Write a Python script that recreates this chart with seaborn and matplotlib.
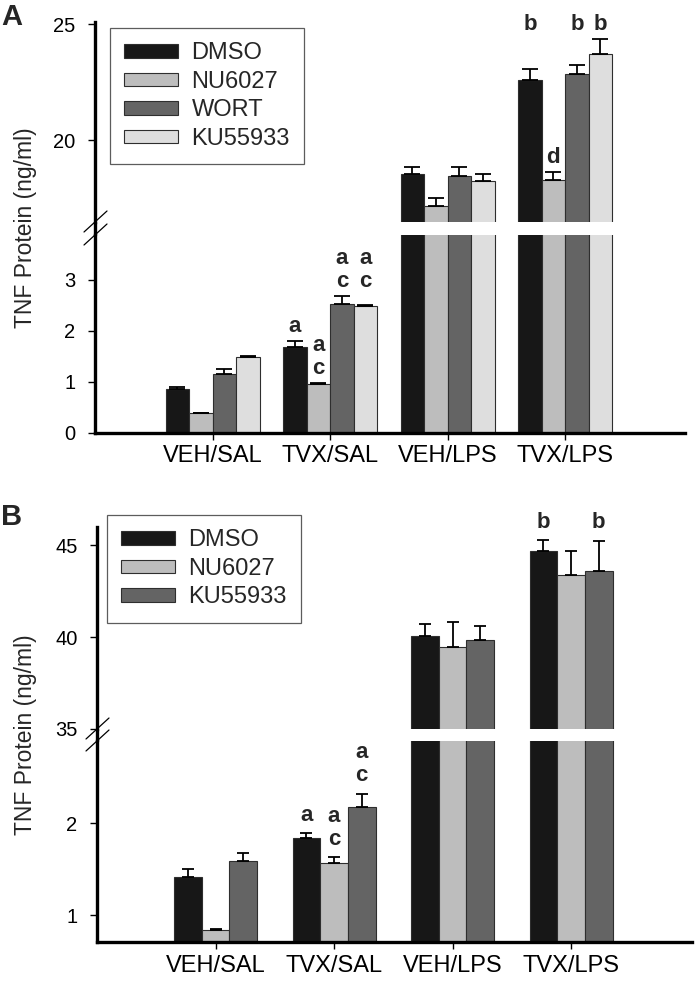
import numpy as np
import pandas as pd
import matplotlib
matplotlib.use('Agg')
import matplotlib.pyplot as plt
from matplotlib.lines import Line2D
import seaborn as sns

groups = ['VEH/SAL', 'TVX/SAL', 'VEH/LPS', 'TVX/LPS']

# panel A values (ng/ml) and upper error
drugs_a = ['DMSO', 'NU6027', 'WORT', 'KU55933']
dmso_a = [0.87, 1.69, 18.55, 22.60]
nu_a = [0.39, 0.96, 17.14, 18.29]
wort_a = [1.16, 2.53, 18.46, 22.85]
ku_a = [1.49, 2.48, 18.25, 23.70]
dmso_a_err = [0.03, 0.11, 0.30, 0.48]
nu_a_err = [0.01, 0.02, 0.38, 0.33]
wort_a_err = [0.09, 0.16, 0.38, 0.40]
ku_a_err = [0.01, 0.02, 0.30, 0.66]
colors_a = ['#171717', '#bdbdbd', '#646464', '#dedede']
# (group, drug, letters top->bottom, shared-row key)
letters_a = [('TVX/SAL', 'DMSO', 'a', None), ('TVX/SAL', 'NU6027', 'ac', None),
             ('TVX/SAL', 'WORT', 'ac', 1), ('TVX/SAL', 'KU55933', 'ac', 1),
             ('TVX/LPS', 'DMSO', 'b', 2), ('TVX/LPS', 'NU6027', 'd', None),
             ('TVX/LPS', 'WORT', 'b', 2), ('TVX/LPS', 'KU55933', 'b', 2)]

# panel B
drugs_b = ['DMSO', 'NU6027', 'KU55933']
dmso_b = [1.41, 1.84, 40.05, 44.67]
nu_b = [0.84, 1.57, 39.46, 43.37]
ku_b = [1.59, 2.17, 39.84, 43.60]
dmso_b_err = [0.09, 0.05, 0.65, 0.60]
nu_b_err = [0.01, 0.06, 1.35, 1.30]
ku_b_err = [0.09, 0.15, 0.76, 1.60]
colors_b = ['#171717', '#bdbdbd', '#646464']
letters_b = [('TVX/SAL', 'DMSO', 'a', None), ('TVX/SAL', 'NU6027', 'ac', None),
             ('TVX/SAL', 'KU55933', 'ac', None),
             ('TVX/LPS', 'DMSO', 'b', 2), ('TVX/LPS', 'KU55933', 'b', 2)]


def make_df(drugs, vals, errs):
    rows = []
    for d, v, e in zip(drugs, vals, errs):
        for g, vv, ee in zip(groups, v, e):
            rows.append({'group': g, 'drug': d, 'value': vv, 'err': ee})
    return pd.DataFrame(rows)


df_a = make_df(drugs_a, [dmso_a, nu_a, wort_a, ku_a], [dmso_a_err, nu_a_err, wort_a_err, ku_a_err])
df_b = make_df(drugs_b, [dmso_b, nu_b, ku_b], [dmso_b_err, nu_b_err, ku_b_err])

sns.set_theme(style='white')
plt.rcParams['font.family'] = ['Liberation Sans', 'DejaVu Sans']

W, H = 695, 983
fig = plt.figure(figsize=(W / 100, H / 100), dpi=100)


def px_axes(x0, x1, y0, y1):
    # pixel box (top-left origin) -> figure axes
    return fig.add_axes([x0 / W, 1 - y1 / H, (x1 - x0) / W, (y1 - y0) / H])


def draw_panel(x0, x1, up, lo, df, drugs, colors, width, ylim_up, ylim_lo, ticks_up, ticks_lo,
               letters, capsize, let_off, leg_xy, label, label_y):
    ax_up = px_axes(x0, x1, up[0], up[1])
    ax_lo = px_axes(x0, x1, lo[0], lo[1])
    tops = {}
    for ax in (ax_up, ax_lo):
        sns.barplot(data=df, x='group', y='value', hue='drug', order=groups, hue_order=drugs,
                    palette=colors, width=width, saturation=1, edgecolor='#2e2e2e', linewidth=0.8,
                    errorbar=None, ax=ax, legend=(ax is ax_up))
        for j, d in enumerate(drugs):
            sub = df[df.drug == d].set_index('group').loc[groups]
            xs = [b.get_x() + b.get_width() / 2 for b in ax.containers[j]]
            ax.errorbar(xs, sub['value'], yerr=[np.zeros(len(xs)), sub['err']], fmt='none',
                        ecolor='black', elinewidth=1.3, capsize=capsize, capthick=1.3)
            for g, xx, v, e in zip(groups, xs, sub['value'], sub['err']):
                tops[(g, d)] = (xx, v + e)
        ax.set_xlim(-1.0, 4.02)
        ax.set_xlabel('')
        ax.set_ylabel('')
        sns.despine(ax=ax)
        ax.spines['left'].set_linewidth(2.4)
        ax.spines['left'].set_color('black')
        ax.tick_params(axis='y', direction='out', length=5, width=1, pad=9, labelsize=14.5,
                       left=True, colors='black')

    ax_up.set_ylim(*ylim_up)
    ax_up.set_yticks(ticks_up)
    ax_up.spines['bottom'].set_visible(False)
    ax_up.set_xticks([])
    ax_lo.set_ylim(*ylim_lo)
    ax_lo.set_yticks(ticks_lo)
    ax_lo.spines['bottom'].set_linewidth(2.4)
    ax_lo.spines['bottom'].set_color('black')
    ax_lo.tick_params(axis='x', direction='out', length=5, width=1, pad=4, labelsize=17,
                      bottom=True, colors='black')

    # significance letters
    for g, d, txt, row in letters:
        xx, anchor = tops[(g, d)]
        if row is not None:
            anchor = max(tops[(gg, dd)][1] for gg, dd, tt, rr in letters if gg == g and rr == row)
        ax = ax_up if anchor > ylim_lo[1] else ax_lo
        for k, ch in enumerate(reversed(txt)):
            ax.annotate(ch, (xx, anchor), xytext=(0, let_off + 16.5 * k), textcoords='offset points',
                        ha='center', va='baseline', fontsize=16, fontweight='bold',
                        annotation_clip=False)

    sns.move_legend(ax_up, loc='upper left', bbox_to_anchor=(leg_xy[0] / W, 1 - leg_xy[1] / H),
                    bbox_transform=fig.transFigure, title=None, frameon=True, fancybox=False,
                    edgecolor='#333333', fontsize=17, handlelength=2.3, handleheight=0.5,
                    labelspacing=0.28, borderpad=0.6, handletextpad=0.55, borderaxespad=0)
    ax_up.get_legend().get_frame().set_linewidth(0.9)

    # continuous spine across the break and // marks
    fig.add_artist(Line2D([x0 / W, x0 / W], [1 - lo[0] / H, 1 - up[1] / H], color='black',
                          lw=2.4, transform=fig.transFigure))
    for yb in (up[1], lo[0]):
        fig.add_artist(Line2D([(x0 - 11) / W, (x0 + 12) / W], [1 - (yb + 10) / H, 1 - (yb - 11) / H],
                              color='black', lw=0.9, transform=fig.transFigure))

    fig.text(26 / W, 1 - (up[0] + lo[1]) / 2 / H, 'TNF Protein (ng/ml)', rotation=90,
             ha='center', va='center', fontsize=16.5)
    fig.text(1 / W, 1 - label_y / H, label, ha='left', va='center', fontsize=21, fontweight='bold')


draw_panel(95, 685, (22, 222), (235, 433), df_a, drugs_a, colors_a, 0.8,
           (16.47, 25.09), (0, 3.88), [20, 25], [0, 1, 2, 3], letters_a, 6, 6.5,
           (110, 28), 'A', 17)
draw_panel(97, 692, (527, 729), (741, 942), df_b, drugs_b, colors_b, 0.7,
           (35, 45.98), (0.71, 2.89), [35, 40, 45], [1, 2], letters_b, 4.3, 9,
           (107, 515), 'B', 517)

fig.savefig('out.png', dpi=100, facecolor='white')
